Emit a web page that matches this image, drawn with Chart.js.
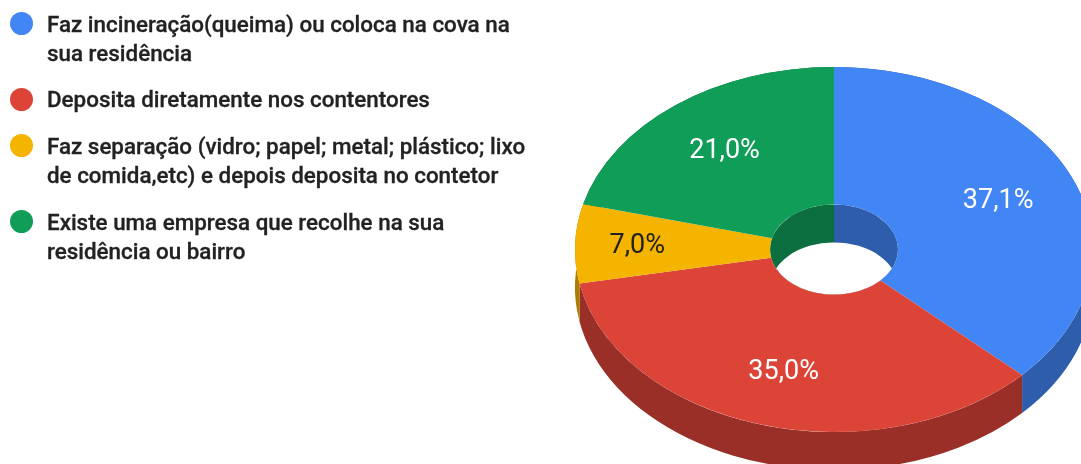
<!DOCTYPE html>
<html>
<head>
<meta charset="utf-8">
<title>Destino do lixo</title>
<script src="https://cdn.jsdelivr.net/npm/chart.js@4"></script>
<style>
    html, body { margin: 0; padding: 0; background: #fff; overflow: hidden; }
    #wrap { position: relative; width: 1081px; height: 464px; }
    #legend { position: absolute; left: 9.5px; top: 9.5px; width: 530px; font: 500 22.4px/29px Roboto, sans-serif; color: #222; -webkit-text-stroke: 0.3px #222; }
    .item { position: relative; padding-left: 37.5px; margin-bottom: 17.7px; white-space: pre-line; }
    .dot { position: absolute; left: 0; top: 2.5px; width: 23px; height: 23px; border-radius: 50%; }
</style>
</head>
<body>
<div id="wrap">
    <canvas id="chart" width="1081" height="464"></canvas>
    <div id="legend"></div>
</div>
<script>
const categories = [
    "Faz incineração(queima) ou coloca na cova na\nsua residência",
    "Deposita diretamente nos contentores",
    "Faz separação (vidro; papel; metal; plástico; lixo\nde comida,etc) e depois deposita no contetor",
    "Existe uma empresa que recolhe na sua\nresidência ou bairro"
];
const shares = [37.1, 35.0, 7.0, 21.0];
const valueLabels = ["37,1%", "35,0%", "7,0%", "21,0%"];
const topColors = ["#4285F4", "#DB4437", "#F4B400", "#0F9D58"];
const sideColors = ["#2E5DAB", "#992F26", "#AB7E00", "#0A6E3E"];
const labelColors = ["#fff", "#fff", "#222", "#fff"];

const RX = 259, RY = 182.5, DEPTH = 38;

// fake 3D: the side walls go under the arcs, the arcs get squashed into an ellipse
const tiltedPie = {
    id: "tiltedPie",
    beforeDatasetDraw(chart, args) {
        const ctx = chart.ctx;
        const arcs = args.meta.data;

        arcs.forEach(function (a, i) {
            ctx.fillStyle = sideColors[i];
            ctx.beginPath();
            ctx.ellipse(a.x, a.y, RX, RY, 0, a.startAngle, a.endAngle);
            ctx.ellipse(a.x, a.y + DEPTH, RX, RY, 0, a.endAngle, a.startAngle, true);
            ctx.closePath();
            ctx.fill();
        });

        // hole: dark wall at the back, white where you look through
        const a = arcs[0];
        const k = a.innerRadius / a.outerRadius;
        ctx.save();
        ctx.beginPath();
        ctx.ellipse(a.x, a.y, RX * k, RY * k, 0, 0, Math.PI * 2);
        ctx.clip();
        ctx.fillStyle = sideColors[3];
        ctx.fillRect(a.x - RX * k, a.y - RY * k, RX * k, RY * k * 2);
        ctx.fillStyle = sideColors[0];
        ctx.fillRect(a.x, a.y - RY * k, RX * k, RY * k * 2);
        ctx.fillStyle = "#fff";
        ctx.beginPath();
        ctx.ellipse(a.x, a.y + DEPTH, RX * k, RY * k, 0, 0, Math.PI * 2);
        ctx.fill();
        ctx.restore();

        ctx.save();
        ctx.translate(a.x, a.y);
        ctx.scale(RX / a.outerRadius, RY / a.outerRadius);
        ctx.translate(-a.x, -a.y);
    },
    afterDatasetDraw(chart, args) {
        const ctx = chart.ctx;
        ctx.restore();

        ctx.save();
        ctx.font = "27px Roboto, sans-serif";
        ctx.textAlign = "center";
        ctx.textBaseline = "middle";
        args.meta.data.forEach(function (a, i) {
            const mid = (a.startAngle + a.endAngle) / 2;
            const f = i === 2 ? 0.76 : 0.69;
            ctx.fillStyle = labelColors[i];
            ctx.fillText(valueLabels[i], a.x + RX * f * Math.cos(mid), a.y + 1.5 + RY * f * Math.sin(mid));
        });
        ctx.restore();
    }
};

new Chart(document.getElementById("chart"), {
    type: "doughnut",
    data: {
        labels: categories,
        datasets: [{
            data: shares,
            backgroundColor: topColors,
            borderWidth: 0,
            clip: false
        }]
    },
    options: {
        responsive: false,
        animation: false,
        cutout: "24.7%",
        layout: { padding: { left: 587, top: 35 } },
        plugins: {
            legend: { display: false },
            tooltip: { enabled: false }
        }
    },
    plugins: [tiltedPie]
});

const legend = document.getElementById("legend");
categories.forEach(function (text, i) {
    const item = document.createElement("div");
    item.className = "item";
    item.textContent = text;
    const dot = document.createElement("span");
    dot.className = "dot";
    dot.style.background = topColors[i];
    item.appendChild(dot);
    legend.appendChild(item);
});
</script>
</body>
</html>
